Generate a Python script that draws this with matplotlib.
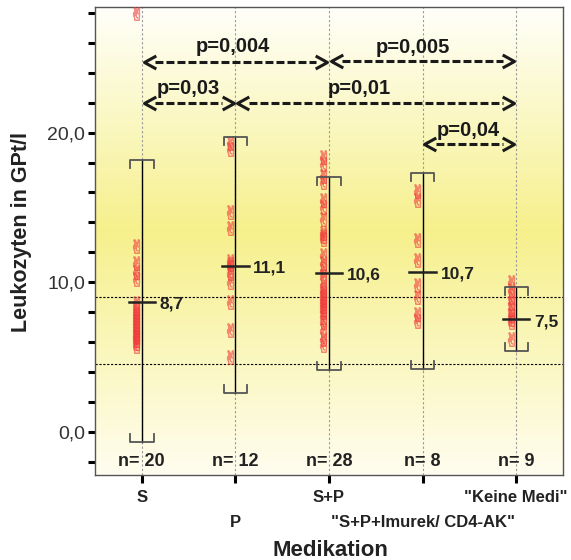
import numpy as np
import matplotlib
matplotlib.use("Agg")
import matplotlib.pyplot as plt
from matplotlib.path import Path

plt.rcParams['font.family'] = ['Liberation Sans', 'DejaVu Sans']

# ---- data ----
groups = ["S", "P", "S+P", '"S+P+Imurek/ CD4-AK"', '"Keine Medi"']
label_row = [0, 1, 0, 1, 0]   # staggered tick labels
values = [
    [28.0, 12.4, 11.3, 10.7, 10.2, 8.6, 8.3, 8.0, 7.8, 7.6, 7.4, 7.2, 7.0,
     6.8, 6.6, 6.4, 6.3, 6.1, 5.9, 5.7],
    [19.3, 18.9, 14.7, 13.6, 11.4, 11.2, 11.0, 10.6, 10.0, 8.7, 6.8, 5.0],
    [18.4, 17.9, 17.1, 16.7, 15.5, 15.0, 14.2, 13.3, 13.1, 12.9, 11.8, 11.3,
     10.8, 10.4, 9.8, 9.5, 9.3, 9.0, 8.8, 8.6, 8.4, 8.2, 8.0, 7.7, 7.3, 6.8,
     6.2, 5.8],
    [16.1, 15.5, 12.8, 11.5, 9.8, 9.0, 7.9, 7.4],
    [10.0, 9.5, 9.0, 8.6, 8.2, 7.8, 7.5, 7.3, 6.2],
]
means = [8.7, 11.1, 10.6, 10.7, 7.5]
mean_labels = ["8,7", "11,1", "10,6", "10,7", "7,5"]
err_low = [-0.7, 2.6, 4.1, 4.2, 5.4]
err_high = [18.2, 19.7, 17.05, 17.3, 9.7]
n_labels = ["n= 20", "n= 12", "n= 28", "n= 8", "n= 9"]
ref_lines = [9.0, 4.5]

# p-value brackets: (from group, to group, arrow y, label, label x, label baseline y)
p_from = [1, 3, 1, 2, 4]
p_to = [3, 5, 2, 5, 5]
p_y = [24.7, 24.8, 22.0, 22.0, 19.25]
p_text = ["p=0,004", "p=0,005", "p=0,03", "p=0,01", "p=0,04"]
p_text_x = [1.97, 3.90, 1.50, 3.32, 4.49]
p_text_y = [25.4, 25.35, 22.55, 22.55, 19.8]

fig = plt.figure(figsize=(5.71, 5.60), dpi=100)
ax = fig.add_axes([95 / 571, 1 - 475 / 560, (563 - 95) / 571, (475 - 7) / 560])
ylo, yhi = -2.9, 28.4
ax.set_xlim(0.5, 5.5)
ax.set_ylim(ylo, yhi)

# yellow vertical gradient background
ys = np.linspace(ylo, yhi, 300)
stops_y = [ylo, 13.5, yhi]
grad = np.zeros((300, 1, 3))
for c, (a, m, b) in enumerate(zip((255, 253, 239), (246, 240, 140), (255, 255, 250))):
    grad[:, 0, c] = np.interp(ys, stops_y, [a, m, b]) / 255
ax.imshow(grad, extent=[0.5, 5.5, ylo, yhi], origin="lower", aspect="auto", zorder=0)

x = np.arange(1, len(groups) + 1)

for xi in x:
    ax.axvline(xi, color="#999999", lw=0.8, ls=(0, (2, 2)), zorder=1)
for r in ref_lines:
    ax.axhline(r, color="black", lw=0.8, ls=(0, (2, 1.5)), zorder=2)

# red points (SPSS style markers, outlined)
for xi, vals in zip(x, values):
    ax.plot(np.full(len(vals), xi - 0.06), vals, ls="none", marker="$✌$",
            ms=10, mfc="none", mec="#f03c3c", mew=0.6, alpha=0.6, zorder=3)

# error bars with bracket caps
cw, leg = 0.125, 0.55
for xi, lo, hi, m, lab in zip(x, err_low, err_high, means, mean_labels):
    ax.plot([xi, xi], [lo, hi], color="black", lw=1.0, zorder=4)
    ax.plot([xi - cw, xi - cw, xi + cw, xi + cw], [hi - leg, hi, hi, hi - leg],
            color="#555555", lw=1.3, zorder=4)
    ax.plot([xi - cw, xi - cw, xi + cw, xi + cw], [lo + leg, lo, lo, lo + leg],
            color="#555555", lw=1.3, zorder=4)
    ax.plot([xi - 0.14, xi + 0.14], [m, m], color="#222222", lw=1.8, zorder=5)
    ax.text(xi + 0.19, m - 0.15, lab, fontsize=12.5, fontweight="bold",
            color="#222222", va="center", ha="left", zorder=6)

for xi, lab in zip(x, n_labels):
    ax.text(xi, -2.3, lab, fontsize=13, fontweight="bold", color="#222222",
            ha="center", va="baseline", zorder=6)

# p-value arrows
lt = Path([(1, 0.55), (0, 0), (1, -0.55)], [Path.MOVETO, Path.LINETO, Path.LINETO])
gt = Path([(-1, 0.55), (0, 0), (-1, -0.55)], [Path.MOVETO, Path.LINETO, Path.LINETO])
for a, b, yy, t, tx, ty in zip(p_from, p_to, p_y, p_text, p_text_x, p_text_y):
    x1, x2 = a + 0.02, b - 0.02
    ax.plot([x1 + 0.12, x2 - 0.12], [yy, yy], color="#1a1a1a", lw=2.2,
            dashes=(2.6, 1.0), solid_capstyle="butt", zorder=6)
    ax.plot([x1], [yy], marker=lt, ms=17, mew=2.2, mfc="none", mec="#1a1a1a",
            ls="none", zorder=6)
    ax.plot([x2], [yy], marker=gt, ms=17, mew=2.2, mfc="none", mec="#1a1a1a",
            ls="none", zorder=6)
    ax.text(tx, ty, t, fontsize=14.5, fontweight="bold", color="#1a1a1a",
            ha="center", va="baseline", zorder=7)

# axes styling
for s in ax.spines.values():
    s.set_color("#555555")
    s.set_linewidth(1.0)
ax.set_yticks([0, 10, 20])
ax.set_yticklabels(["0,0", "10,0", "20,0"], fontsize=14, color="#333333")
ax.set_yticks(np.arange(-2, 29, 2), minor=True)
ax.tick_params(axis="y", which="both", length=5, width=2.2, color="black",
               direction="out", pad=2)
ax.set_xticks(x)
ax.set_xticklabels([])
ax.tick_params(axis="x", length=6, width=2.2, color="black")

# staggered category labels below the axis
row_offset = [-16, -34]
for xi, lab, row in zip(x, groups, label_row):
    ax.annotate(lab, xy=(xi, 0), xycoords=("data", "axes fraction"),
                xytext=(0, row_offset[row]), textcoords="offset points",
                fontsize=12, fontweight="bold", color="#222222",
                ha="center", va="center")

fig.text(22 / 571, 1 - 232 / 560, "Leukozyten in GPt/l", rotation=90,
         fontsize=15.5, fontweight="bold", color="#222222",
         ha="center", va="center")
fig.text(330 / 571, 1 - 550 / 560, "Medikation", fontsize=16,
         fontweight="bold", color="#222222", ha="center", va="center")

plt.savefig("out.png", dpi=100, facecolor="white")
